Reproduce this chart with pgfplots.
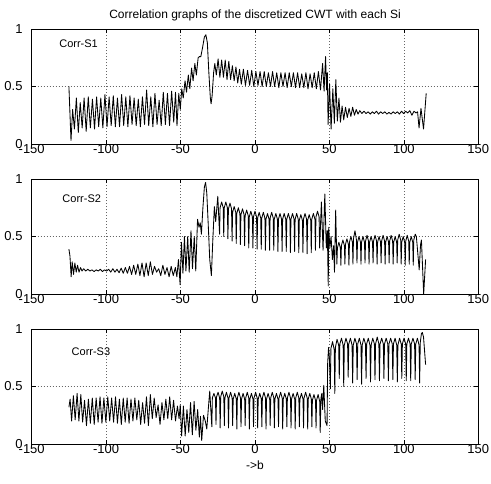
\documentclass[border=0pt]{standalone}
\usepackage{fontspec}
\setmainfont{Liberation Sans}
\usepackage{pgfplots}
\pgfplotsset{compat=1.18}

\pgfplotsset{
  corrax/.style={
    width=446.6bp, height=115bp, scale only axis,
    anchor=north west,
    xmin=-150, xmax=150, ymin=0, ymax=1,
    xtick={-150,-100,...,150}, ytick={0,0.5,1},
    yticklabels={0,0.5,1},
    tick align=inside, major tick length=4bp,
    xtick pos=both, ytick pos=both,
    grid=major,
    grid style={black!60, line width=0.5bp, dash pattern=on 0.8bp off 2.2bp},
    axis line style={line width=0.9bp},
    every tick/.style={black, line width=0.6bp},
    /pgf/number format/assume math mode=true,
    tick label style={font=\fontsize{13bp}{15bp}\selectfont},
    xticklabel style={inner sep=0.5bp},
    yticklabel style={inner sep=1bp, xshift=-8bp},
    clip=false,
  },
  sig/.style={black, line width=0.85bp, line join=round},
}

\begin{document}
\begin{tikzpicture}
% ---- Corr-S1
\begin{axis}[corrax, at={(0,0)},
  title={Correlation graphs of the discretized CWT with each Si},
  title style={font=\fontsize{12bp}{14bp}\selectfont, yshift=-1bp}]
\addplot[sig] coordinates {
(-125,0.50) (-123.6,0.03) (-122.5,0.30) (-121.3,0.13) (-120,0.40) (-118.7,0.10)
(-117.4,0.36) (-116.1,0.14) (-114.8,0.40) (-113.4,0.11) (-112,0.41) (-110.6,0.14)
(-109.2,0.39) (-107.8,0.13) (-106.4,0.41) (-105,0.15) (-103.6,0.40) (-102.2,0.14)
(-100.8,0.43) (-99.4,0.15) (-98,0.41) (-96.6,0.16) (-95.2,0.42) (-93.8,0.15)
(-92.4,0.40) (-91,0.15) (-89.6,0.43) (-88.2,0.16) (-86.8,0.41) (-85.4,0.15)
(-84,0.42) (-82.6,0.17) (-81.2,0.40) (-79.8,0.16) (-78.4,0.39) (-77,0.15)
(-75.6,0.41) (-74.2,0.17) (-72.8,0.47) (-71.4,0.16) (-70,0.41) (-68.6,0.15)
(-67.2,0.44) (-65.8,0.17) (-64.4,0.38) (-63,0.16) (-61.6,0.45) (-60.2,0.17)
(-58.8,0.44) (-57.4,0.16) (-56,0.46) (-54.6,0.19) (-53.4,0.45) (-52.4,0.16)
(-51.2,0.44) (-50.2,0.30) (-49.2,0.48) (-48.2,0.40) (-47,0.55) (-46,0.45)
(-44.8,0.60) (-43.8,0.48) (-42.6,0.66) (-41.6,0.55) (-40.4,0.70) (-39.4,0.60)
(-38.2,0.75) (-37.4,0.76) (-36.4,0.76) (-35.2,0.84) (-34,0.93) (-33,0.95)
(-32,0.88) (-31,0.62) (-30,0.40) (-29.5,0.35) (-28.8,0.42) (-27.8,0.62)
(-27,0.70) (-26,0.60) (-24.8,0.74) (-23.6,0.58) (-22.4,0.73) (-21.2,0.58)
(-20,0.73) (-18.8,0.56) (-17.6,0.72) (-16.4,0.56) (-15.2,0.68) (-14,0.55)
(-12.8,0.67) (-11.6,0.53) (-10.4,0.65) (-9.2,0.52) (-7.8,0.65) (-6.4,0.51)
(-5,0.64) (-3.6,0.51) (-2.2,0.64) (-0.8,0.50) (0.6,0.63) (2,0.51)
(3.4,0.63) (4.8,0.50) (6.2,0.63) (7.6,0.50) (9,0.62) (10.4,0.50)
(11.8,0.63) (13.2,0.50) (14.6,0.62) (16,0.49) (17.4,0.62) (18.8,0.50)
(20.2,0.62) (21.6,0.49) (23,0.62) (24.4,0.50) (25.8,0.62) (27.2,0.49)
(28.6,0.62) (30,0.49) (31.4,0.61) (32.8,0.49) (34.2,0.62) (35.6,0.48)
(37,0.61) (38.4,0.49) (39.8,0.62) (41.2,0.48) (42.6,0.63) (44,0.47)
(45.4,0.70) (46.4,0.46) (47.4,0.76) (48.1,0.47) (48.6,0.62) (49.1,0.17)
(50.1,0.52) (51.1,0.13) (52.3,0.48) (53.3,0.18) (54.3,0.56) (55.3,0.20)
(56.4,0.40) (57.4,0.19) (58.5,0.33) (59.6,0.21) (60.8,0.32) (62,0.23)
(63.2,0.31) (64.4,0.24) (65.6,0.32) (66.8,0.25) (68,0.30) (69.2,0.26)
(70.4,0.29) (71.8,0.265) (73.2,0.285) (74.6,0.265) (76,0.28) (77.4,0.26)
(78.8,0.28) (80.2,0.265) (81.6,0.285) (83,0.26) (84.4,0.28) (85.8,0.265)
(87.2,0.28) (88.6,0.26) (90,0.275) (91.4,0.26) (92.8,0.28) (94.2,0.265)
(95.6,0.28) (97,0.26) (98.4,0.285) (99.8,0.265) (101.2,0.285) (102.6,0.27)
(104,0.29) (105.4,0.25) (106.8,0.285) (108.2,0.27) (109.2,0.28) (110.2,0.14)
(111.5,0.31) (113.2,0.13) (115,0.44)
};
\node[font=\fontsize{11bp}{13bp}\selectfont] at (axis cs:-118.5,0.875) {Corr-S1};
\coordinate (bbtl) at (rel axis cs:0,1);
\end{axis}

% ---- Corr-S2
\begin{axis}[corrax, at={(0,-150bp)}]
\addplot[sig] coordinates {
(-125,0.39) (-124.3,0.33) (-123.5,0.15) (-122.8,0.28) (-121.9,0.17) (-121,0.27)
(-120.1,0.19) (-119.2,0.25) (-118.2,0.19) (-117.2,0.23) (-116.2,0.20) (-115.1,0.22)
(-113.7,0.20) (-112.3,0.215) (-110.9,0.20) (-109.5,0.21) (-108.1,0.195) (-106.7,0.21)
(-105.3,0.20) (-103.9,0.215) (-102.5,0.195) (-101.1,0.21) (-99.7,0.20) (-98.3,0.215)
(-96.9,0.19) (-95.5,0.22) (-94.1,0.19) (-92.7,0.215) (-91.3,0.185) (-89.9,0.225)
(-88.5,0.18) (-87.1,0.23) (-85.7,0.18) (-84.3,0.24) (-82.9,0.17) (-81.5,0.25)
(-80.1,0.17) (-78.7,0.26) (-77.3,0.16) (-75.9,0.27) (-74.5,0.15) (-73.1,0.27)
(-71.7,0.16) (-70.3,0.28) (-68.9,0.17) (-67.5,0.24) (-66.1,0.19) (-64.7,0.22)
(-63.3,0.16) (-61.9,0.25) (-60.5,0.17) (-59.1,0.23) (-57.7,0.15) (-56.3,0.24)
(-54.9,0.16) (-53.5,0.23) (-52.5,0.15) (-51.4,0.30) (-50.3,0.08) (-49.4,0.45)
(-48.4,0.18) (-47.4,0.50) (-46.4,0.20) (-45.2,0.50) (-44.2,0.19) (-43,0.55)
(-42,0.22) (-40.8,0.50) (-39.8,0.20) (-38.6,0.65) (-37.6,0.58) (-36.8,0.62)
(-36,0.52) (-35,0.75) (-34,0.93) (-33.2,0.97) (-32.4,0.88) (-31.4,0.60)
(-30.4,0.30) (-29.3,0.16) (-28.4,0.45) (-27.3,0.76) (-26.4,0.63) (-25,0.85)
(-23.8,0.52) (-23.45,0.75) (-22.4,0.80) (-21.35,0.75) (-21.0,0.50)
(-20.65,0.75) (-19.6,0.80) (-18.55,0.75) (-18.2,0.48)
(-17.85,0.74) (-16.8,0.79) (-15.75,0.74) (-15.4,0.46)
(-15.05,0.71) (-14.0,0.76) (-12.95,0.71) (-12.6,0.44)
(-12.25,0.70) (-11.2,0.75) (-10.15,0.70) (-9.8,0.43)
(-9.45,0.69) (-8.4,0.74) (-7.35,0.69) (-7.0,0.42)
(-6.65,0.68) (-5.6,0.73) (-4.55,0.68) (-4.2,0.40)
(-3.85,0.67) (-2.8,0.72) (-1.75,0.67) (-1.4,0.40)
(-1.05,0.67) (0.0,0.72) (1.05,0.67) (1.4,0.39)
(1.75,0.66) (2.8,0.71) (3.85,0.66) (4.2,0.39)
(4.55,0.66) (5.6,0.71) (6.65,0.66) (7.0,0.38)
(7.35,0.65) (8.4,0.70) (9.45,0.65) (9.8,0.38)
(10.15,0.66) (11.2,0.71) (12.25,0.66) (12.6,0.38)
(12.95,0.65) (14.0,0.70) (15.05,0.65) (15.4,0.37)
(15.75,0.65) (16.8,0.70) (17.85,0.65) (18.2,0.37)
(18.55,0.65) (19.6,0.70) (20.65,0.65) (21.0,0.37)
(21.35,0.65) (22.4,0.70) (23.45,0.65) (23.8,0.36)
(24.15,0.65) (25.2,0.70) (26.25,0.65) (26.6,0.37)
(26.95,0.65) (28.0,0.70) (29.05,0.65) (29.4,0.36)
(29.75,0.64) (30.8,0.69) (31.85,0.64) (32.2,0.36)
(32.55,0.65) (33.6,0.70) (34.65,0.65) (35.0,0.35)
(35.35,0.64) (36.4,0.69) (37.45,0.64) (37.8,0.36)
(38.15,0.65) (39.2,0.70) (40.25,0.65) (40.6,0.38)
(40.95,0.67) (42.0,0.72) (43.05,0.67) (43.4,0.40)
(44.6,0.80) (45.7,0.38) (46.9,0.87) (47.9,0.40) (48.6,0.55) (49.2,0.07)
(49.5,0.58) (50.3,0.40) (51.1,0.50) (52,0.30) (52.8,0.42) (53.4,0.19)
(54.2,0.73) (55,0.26)
(55.35,0.40) (56.35,0.45) (57.35,0.40) (57.7,0.25)
(58.05,0.42) (59.05,0.47) (60.05,0.42) (60.4,0.26)
(60.75,0.43) (61.75,0.48) (62.75,0.43) (63.1,0.25)
(63.45,0.45) (64.45,0.50) (65.45,0.45) (65.8,0.26)
(66.15,0.48) (67.15,0.55) (68.15,0.47) (68.5,0.27)
(68.85,0.45) (69.85,0.50) (70.85,0.45) (71.2,0.26)
(71.55,0.45) (72.55,0.50) (73.55,0.45) (73.9,0.27)
(74.25,0.46) (75.25,0.51) (76.25,0.46) (76.6,0.26)
(76.95,0.45) (77.95,0.50) (78.95,0.45) (79.3,0.27)
(79.65,0.46) (80.65,0.51) (81.65,0.46) (82.0,0.26)
(82.35,0.45) (83.35,0.50) (84.35,0.45) (84.7,0.27)
(85.05,0.46) (86.05,0.51) (87.05,0.46) (87.4,0.26)
(87.75,0.45) (88.75,0.50) (89.75,0.45) (90.1,0.27)
(90.45,0.46) (91.45,0.51) (92.45,0.46) (92.8,0.26)
(93.15,0.45) (94.15,0.50) (95.15,0.45) (95.5,0.27)
(95.85,0.47) (96.85,0.52) (97.85,0.47) (98.2,0.26)
(98.55,0.45) (99.55,0.50) (100.55,0.45) (100.9,0.25)
(101.25,0.46) (102.25,0.51) (103.25,0.46) (103.6,0.26)
(103.95,0.45) (104.95,0.50) (105.95,0.45) (106.3,0.25)
(106.65,0.47) (107.65,0.52) (108.4,0.50) (110.3,0.21)
(111.2,0.43) (111.8,0.47) (113.3,0.0) (114.6,0.30)
};
\node[font=\fontsize{11bp}{13bp}\selectfont] at (axis cs:-116.4,0.83) {Corr-S2};
\end{axis}

% ---- Corr-S3
\begin{axis}[corrax, at={(0,-300bp)},
  xlabel={->b},
  xlabel style={font=\fontsize{12bp}{14bp}\selectfont,
    at={(axis description cs:0.5,0)}, anchor=center, yshift=-21bp}]
\addplot[sig] coordinates {
(-125,0.32) (-124.2,0.39) (-123.2,0.20) (-122,0.42) (-120.8,0.21) (-119.5,0.44)
(-118.3,0.20) (-117,0.43) (-115.8,0.19) (-114.5,0.38) (-113.2,0.16) (-111.9,0.39)
(-110.6,0.18) (-109.3,0.40) (-108,0.17) (-106.7,0.40) (-105.4,0.19) (-104.1,0.41)
(-102.8,0.18) (-101.5,0.40) (-100.2,0.19) (-98.9,0.41) (-97.6,0.20) (-96.3,0.40)
(-95,0.19) (-93.7,0.41) (-92.4,0.18) (-91.1,0.39) (-89.8,0.17) (-88.5,0.40)
(-87.2,0.19) (-85.9,0.40) (-84.6,0.18) (-83.3,0.39) (-82,0.20) (-80.7,0.40)
(-79.4,0.21) (-78.1,0.38) (-76.8,0.17) (-75.5,0.36) (-74.2,0.18) (-72.9,0.41)
(-71.6,0.16) (-70.3,0.43) (-69,0.22) (-67.7,0.40) (-66.4,0.23) (-65.1,0.34)
(-63.8,0.17) (-62.5,0.36) (-61.2,0.21) (-59.9,0.39) (-58.6,0.22) (-57.3,0.41)
(-56,0.21) (-54.7,0.38) (-53.4,0.20) (-52.1,0.33) (-51,0.22) (-50.2,0.34)
(-49.3,0.07) (-48.1,0.33) (-46.9,0.07) (-45.7,0.30) (-44.5,0.10) (-43.3,0.36)
(-42.1,0.08) (-40.9,0.37) (-39.7,0.12) (-38.5,0.30) (-37.4,0.06) (-36.6,0.24)
(-35.8,0.03) (-34.6,0.25) (-33.4,0.20) (-32.4,0.13) (-31.4,0.30) (-30.4,0.46)
(-29.0,0.15) (-28.65,0.40) (-27.6,0.44) (-26.55,0.40) (-26.2,0.17)
(-25.85,0.41) (-24.8,0.45) (-23.75,0.40) (-23.4,0.14)
(-23.05,0.41) (-22.0,0.46) (-20.95,0.41) (-20.6,0.16)
(-20.25,0.40) (-19.2,0.45) (-18.15,0.40) (-17.8,0.14)
(-17.45,0.40) (-16.4,0.45) (-15.35,0.40) (-15.0,0.16)
(-14.65,0.39) (-13.6,0.44) (-12.55,0.39) (-12.2,0.13)
(-11.85,0.40) (-10.8,0.45) (-9.75,0.40) (-9.4,0.15)
(-9.05,0.39) (-8.0,0.44) (-6.95,0.39) (-6.6,0.16)
(-6.25,0.40) (-5.2,0.45) (-4.15,0.40) (-3.8,0.13)
(-3.45,0.39) (-2.4,0.44) (-1.35,0.39) (-1.0,0.15)
(-0.65,0.40) (0.4,0.45) (1.45,0.40) (1.8,0.14)
(2.15,0.39) (3.2,0.44) (4.25,0.39) (4.6,0.15)
(4.95,0.40) (6.0,0.45) (7.05,0.40) (7.4,0.13)
(7.75,0.39) (8.8,0.44) (9.85,0.39) (10.2,0.16)
(10.55,0.40) (11.6,0.45) (12.65,0.40) (13.0,0.14)
(13.35,0.39) (14.4,0.44) (15.45,0.39) (15.8,0.15)
(16.15,0.40) (17.2,0.45) (18.25,0.40) (18.6,0.13)
(18.95,0.39) (20.0,0.44) (21.05,0.39) (21.4,0.15)
(21.75,0.40) (22.8,0.45) (23.85,0.40) (24.2,0.14)
(24.55,0.39) (25.6,0.44) (26.65,0.39) (27.0,0.13)
(27.35,0.40) (28.4,0.45) (29.45,0.40) (29.8,0.15)
(30.15,0.39) (31.2,0.44) (32.25,0.39) (32.6,0.14)
(32.95,0.40) (34.0,0.45) (35.05,0.40) (35.4,0.13)
(35.75,0.39) (36.8,0.44) (37.85,0.39) (38.2,0.15)
(38.55,0.38) (39.6,0.43) (40.65,0.38) (41.0,0.14)
(41.35,0.38) (42.4,0.43) (43.45,0.37) (43.8,0.10)
(44.3,0.40) (44.9,0.44) (45.4,0.30) (46.2,0.51) (47.2,0.20) (48.4,0.16)
(48.8,0.70) (49.4,0.84) (50.0,0.74) (50.6,0.48)
(51.0,0.83) (52.1,0.89) (53.2,0.82) (53.6,0.44)
(54.0,0.84) (55.1,0.91) (56.2,0.86) (56.6,0.57)
(57.0,0.87) (58.1,0.92) (59.2,0.86) (59.6,0.50)
(60.0,0.86) (61.1,0.92) (62.2,0.87) (62.6,0.58)
(63.0,0.87) (64.1,0.92) (65.2,0.86) (65.6,0.53)
(66.0,0.86) (67.1,0.92) (68.2,0.87) (68.6,0.56)
(69.0,0.87) (70.1,0.92) (71.2,0.86) (71.6,0.52)
(72.0,0.86) (73.1,0.92) (74.2,0.87) (74.6,0.57)
(75.0,0.87) (76.1,0.92) (77.2,0.86) (77.6,0.54)
(78.0,0.86) (79.1,0.92) (80.2,0.87) (80.6,0.56)
(81.0,0.87) (82.1,0.93) (83.2,0.87) (83.6,0.55)
(84.0,0.87) (85.1,0.92) (86.2,0.87) (86.6,0.57)
(87.0,0.87) (88.1,0.92) (89.2,0.87) (89.6,0.55)
(90.0,0.87) (91.1,0.92) (92.2,0.87) (92.6,0.56)
(93.0,0.87) (94.1,0.92) (95.2,0.86) (95.6,0.54)
(96.0,0.86) (97.1,0.92) (98.2,0.87) (98.6,0.57)
(99.0,0.87) (100.1,0.92) (101.2,0.87) (101.6,0.55)
(102.0,0.87) (103.1,0.92) (104.2,0.87) (104.6,0.55)
(105.0,0.87) (106.1,0.92) (107.2,0.87) (107.6,0.56)
(108.0,0.87) (109.1,0.92) (110.2,0.86) (110.6,0.53)
(111.0,0.88) (111.8,0.96) (112.4,0.97) (113.2,0.93) (114.6,0.69)
};
\node[font=\fontsize{11bp}{13bp}\selectfont] at (axis cs:-110.2,0.80) {Corr-S3};
\coordinate (bbbr) at (rel axis cs:1,0);
\end{axis}

\pgfresetboundingbox
\path ([shift={(-31.7bp,29bp)}]bbtl) rectangle ([shift={(12.7bp,-40bp)}]bbbr);
\end{tikzpicture}
\end{document}
